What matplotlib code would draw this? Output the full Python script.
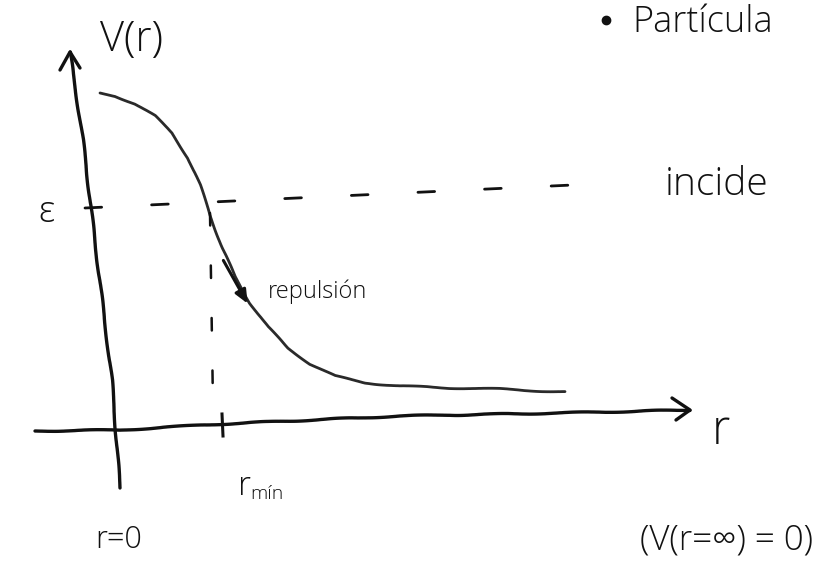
import numpy as np
import matplotlib
matplotlib.use("Agg")
import matplotlib.pyplot as plt

# sketch, in image pixels (x to the right, y downwards)
curve_x = [100, 115, 135, 155, 172, 188, 200, 210, 222, 235, 250, 268, 288, 310, 335, 365, 400, 450, 500, 540, 565]
curve_y = [93, 96, 104, 116, 133, 158, 185, 215, 247, 277, 303, 327, 348, 364, 376, 383, 386, 388, 389, 391, 392]

raxis_x = [35, 120, 222, 400, 560, 690]
raxis_y = [431, 430, 424, 416, 413, 410]
vaxis_x = [120, 112, 96, 83, 70]
vaxis_y = [488, 380, 250, 140, 52]

eps_y = 208
eps_x0, eps_x1 = 85, 615
rmin_x = 210
rmin_tick_x = 222

labels = [
    ("V(r)", 100, 40, 30),
    ("ε", 38, 212, 26),
    ("incide", 665, 185, 28),
    ("repulsión", 268, 292, 17),
    ("r", 712, 432, 34),
    ("r", 238, 486, 24),
    ("mín", 250, 494, 14),
    ("r=0", 95, 540, 22),
    ("(V(r=∞) = 0)", 640, 540, 25),
    ("Partícula", 632, 22, 26),
]

fig = plt.figure(figsize=(8.28, 5.74), dpi=100)
ax = fig.add_axes([0, 0, 1, 1])
ax.set_xlim(0, 828)
ax.set_ylim(574, 0)
ax.axis("off")

ink = "#111111"
sk = dict(scale=0.6, length=90, randomness=2)

# axes
l, = ax.plot(raxis_x, raxis_y, color=ink, lw=2.4, solid_capstyle="round")
l.set_sketch_params(**sk)
l, = ax.plot(vaxis_x, vaxis_y, color=ink, lw=2.4, solid_capstyle="round")
l.set_sketch_params(**sk)
# arrow heads
ax.plot([672, 690, 676], [398, 410, 420], color=ink, lw=2.4, solid_capstyle="round")
ax.plot([60, 70, 80], [70, 52, 68], color=ink, lw=2.4, solid_capstyle="round")

# potential curve
l, = ax.plot(curve_x, curve_y, color="#2a2a2a", lw=2.0, solid_capstyle="round")
l.set_sketch_params(**sk)

# energy line and r_min guide
ax.plot([eps_x0, eps_x1], [eps_y, eps_y - 25], color=ink, lw=2.0,
        dashes=(6, 18), solid_capstyle="round", dash_capstyle="round")
ax.plot([rmin_x, rmin_x + 3], [eps_y + 5, 405], color=ink, lw=1.8,
        dashes=(5, 16), dash_capstyle="round")
ax.plot([rmin_tick_x, rmin_tick_x + 1], [414, 436], color=ink, lw=2.2)

# repulsion arrow
ax.annotate("", xy=(249, 306), xytext=(222, 258),
            arrowprops=dict(arrowstyle="-|>,head_length=0.8,head_width=0.35",
                            color=ink, lw=2.2))

# bullet before "Partícula"
ax.plot([606], [20], "o", color=ink, ms=6)

for txt, x, y, fs in labels:
    ax.text(x, y, txt, fontsize=fs, color=ink, family=["Open Sans", "DejaVu Sans"],
            fontweight="light", va="center", ha="left")

fig.savefig("out.png", dpi=100)
